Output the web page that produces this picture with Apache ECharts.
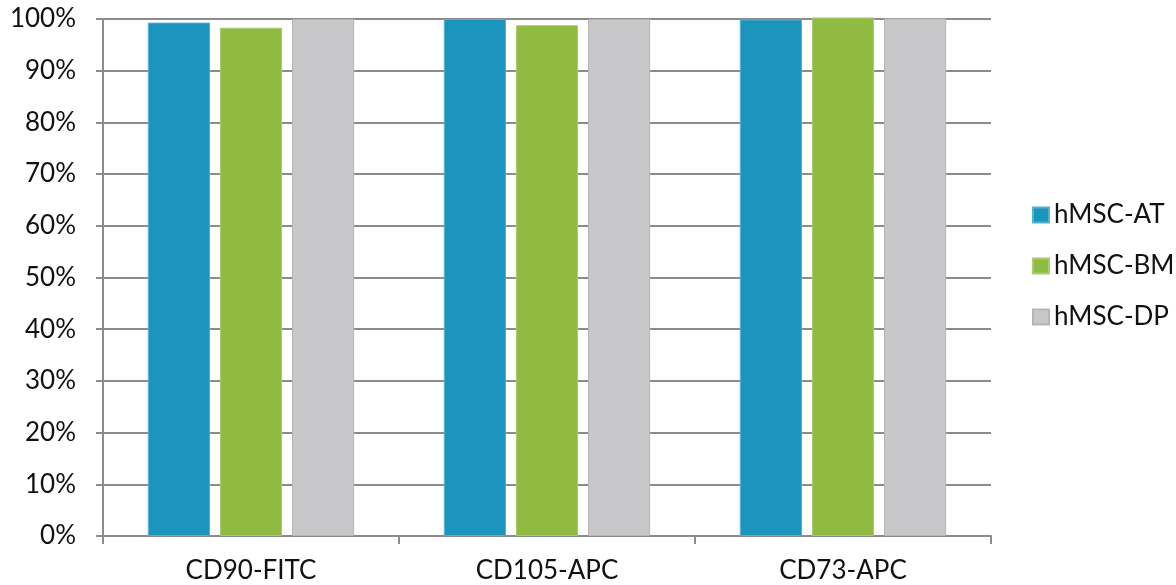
<!DOCTYPE html>
<html>
<head>
<meta charset="utf-8">
<script src="https://cdn.jsdelivr.net/npm/echarts@6/dist/echarts.min.js"></script>
<style>
  html, body { margin: 0; padding: 0; background: #fff; }
  #chart { width: 1176px; height: 585px; }
</style>
</head>
<body>
<div id="chart"></div>
<script>
// Surface marker positivity (%) per MSC source
const markers = ['CD90-FITC', 'CD105-APC', 'CD73-APC'];
const hmscAT = [99.3, 100, 99.9];
const hmscBM = [98.3, 98.8, 100.3];
const hmscDP = [100, 100, 100.1];
const seriesNames = ['hMSC-AT', 'hMSC-BM', 'hMSC-DP'];
const seriesColors = ['#1b95bd', '#8fbb43', '#c8c8ca'];
const seriesBorders = ['#56b0cf', '#a9cb6e', '#b5b5b7'];

const font = 'Lato, "Open Sans", sans-serif';
const gridColor = '#8c8c8c';

const chart = echarts.init(document.getElementById('chart'), null, { renderer: 'canvas' });

const series = [hmscAT, hmscBM, hmscDP].map((vals, i) => ({
  name: seriesNames[i],
  type: 'bar',
  data: vals,
  clip: false,
  barWidth: '21%',
  barGap: '16%',
  itemStyle: { color: seriesColors[i], borderColor: seriesBorders[i], borderWidth: 1 }
}));

chart.setOption({
  animation: false,
  color: seriesColors,
  grid: { left: 103, right: 185, top: 19, bottom: 49, containLabel: false },
  legend: {
    orient: 'vertical',
    left: 1027,
    top: 197,
    itemWidth: 16,
    itemHeight: 15,
    itemGap: 25,
    icon: 'rect',
    textStyle: { fontFamily: font, fontSize: 26, color: '#111' },
    data: seriesNames
  },
  xAxis: {
    type: 'category',
    data: markers,
    axisLine: { lineStyle: { color: gridColor, width: 2 } },
    axisTick: { show: true, length: 8, lineStyle: { color: gridColor, width: 2 } },
    axisLabel: { fontFamily: font, fontSize: 26, color: '#111', margin: 22 }
  },
  yAxis: {
    type: 'value',
    min: 0,
    max: 100,
    interval: 10,
    axisLine: { show: true, lineStyle: { color: gridColor, width: 2 } },
    axisTick: { show: true, length: 7, lineStyle: { color: gridColor, width: 2 } },
    axisLabel: { fontFamily: font, fontSize: 26, color: '#111', margin: 27, formatter: '{value}%' },
    splitLine: { lineStyle: { color: gridColor, width: 2 } }
  },
  series: series
});
</script>
</body>
</html>
